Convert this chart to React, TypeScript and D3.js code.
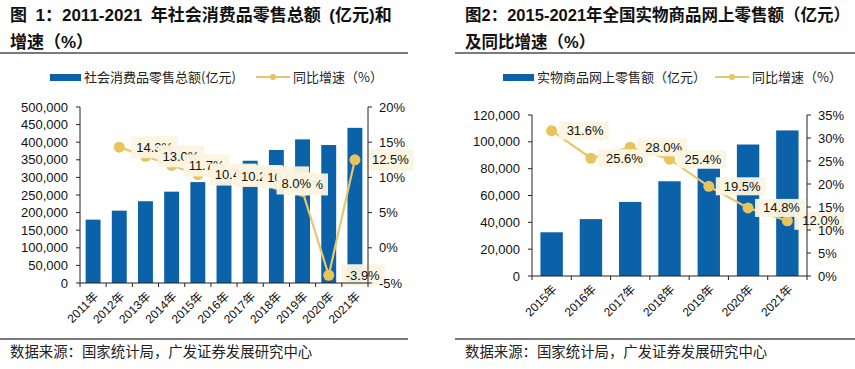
import React, { useRef, useEffect } from "react";
import * as d3 from "d3";

// 图1 数据
const years1 = ["2011年", "2012年", "2013年", "2014年", "2015年", "2016年", "2017年", "2018年", "2019年", "2020年", "2021年"];
const retail1 = [180000, 205500, 232300, 259500, 286600, 315800, 347300, 377800, 408000, 392000, 440800];
const growth1 = [null, 14.3, 13.0, 11.7, 10.4, 10.2, 10.0, 9.0, 8.0, -3.9, 12.5];
const valueTicks1 = [0, 50000, 100000, 150000, 200000, 250000, 300000, 350000, 400000, 450000, 500000];
const pctTicks1 = [-5, 0, 5, 10, 15, 20];

// 图2 数据
const years2 = ["2015年", "2016年", "2017年", "2018年", "2019年", "2020年", "2021年"];
const online2 = [32600, 42400, 55200, 70600, 80000, 98000, 108500];
const growth2 = [31.6, 25.6, 28.0, 25.4, 19.5, 14.8, 12.0];
const valueTicks2 = [0, 20000, 40000, 60000, 80000, 100000, 120000];
const pctTicks2 = [0, 5, 10, 15, 20, 25, 30, 35];

const BLUE = "#0b62a8";
const LINE = "#e3c86f";
const DOT = "#e8c45c";
const BOX = "#fbf4e0";
const NUM_FONT = "'Liberation Sans', Arial, 'Noto Sans CJK SC', sans-serif";
const CJK_FONT = "'Noto Sans CJK SC', sans-serif";

type ChartOpts = {
    years: string[];
    values: number[];
    growth: (number | null)[];
    valueTicks: number[];
    pctTicks: number[];
    left: number;
    right: number;
    top: number;
    bottom: number;
    labelDx: number;
    boxDx: number;
    boxH: number;
    dotR: number;
    moveLabel?: string;
};

function drawChart(g: d3.Selection<SVGGElement, unknown, null, undefined>, o: ChartOpts) {
    const n = o.years.length;
    const x = d3.scaleBand<string>()
        .domain(o.years)
        .range([o.left, o.right])
        .paddingInner(0.43)
        .paddingOuter(0.215);
    const step = (o.right - o.left) / n;

    const y = d3.scaleLinear()
        .domain([o.valueTicks[0], o.valueTicks[o.valueTicks.length - 1]])
        .range([o.bottom, o.top]);
    const yp = d3.scaleLinear()
        .domain([o.pctTicks[0], o.pctTicks[o.pctTicks.length - 1]])
        .range([o.bottom, o.top]);

    // 柱子
    g.selectAll(".bar")
        .data(o.values)
        .enter()
        .append("rect")
        .attr("x", (d, i) => x(o.years[i]) as number)
        .attr("y", d => y(d))
        .attr("width", x.bandwidth())
        .attr("height", d => o.bottom - y(d))
        .attr("fill", BLUE);

    const cx = (i: number) => (x(o.years[i]) as number) + x.bandwidth() / 2;

    // 折线
    const line = d3.line<number | null>()
        .defined(d => d != null)
        .x((d, i) => cx(i))
        .y(d => yp(d as number));
    g.append("path")
        .datum(o.growth)
        .attr("d", line)
        .attr("fill", "none")
        .attr("stroke", LINE)
        .attr("stroke-width", 2.2);

    o.growth.forEach((d, i) => {
        if (d == null) return;
        g.append("circle")
            .attr("cx", cx(i))
            .attr("cy", yp(d))
            .attr("r", o.dotR)
            .attr("fill", DOT);
    });

    // 数据标签（带底色，后画的盖住先画的）
    o.growth.forEach((d, i) => {
        if (d == null) return;
        let tx = cx(i) + o.labelDx;
        let ty = yp(d);
        if (o.years[i] === o.moveLabel) {
            tx -= 38;
            ty -= 8;
        }
        const label = g.append("g");
        const t = label.append("text")
            .attr("x", tx)
            .attr("y", ty)
            .attr("dy", "0.35em")
            .style("font-family", NUM_FONT)
            .style("font-size", "13px")
            .style("fill", "#111")
            .text(d.toFixed(1) + "%");
        const w = (t.node() as SVGTextElement).getComputedTextLength();
        label.insert("rect", "text")
            .attr("x", tx - (o.labelDx - o.boxDx))
            .attr("y", ty - o.boxH / 2)
            .attr("width", w + (o.labelDx - o.boxDx) + 5)
            .attr("height", o.boxH)
            .attr("fill", BOX)
            .attr("opacity", 0.95);
    });

    // 坐标轴
    const axisColor = "#222";
    g.append("line")
        .attr("x1", o.left).attr("x2", o.left)
        .attr("y1", o.top).attr("y2", o.bottom)
        .attr("stroke", axisColor);
    g.append("line")
        .attr("x1", o.right).attr("x2", o.right)
        .attr("y1", o.top).attr("y2", o.bottom)
        .attr("stroke", axisColor);
    g.append("line")
        .attr("x1", o.left).attr("x2", o.right)
        .attr("y1", o.bottom).attr("y2", o.bottom)
        .attr("stroke", axisColor);

    o.valueTicks.forEach(v => {
        g.append("line")
            .attr("x1", o.left - 4).attr("x2", o.left)
            .attr("y1", y(v)).attr("y2", y(v))
            .attr("stroke", axisColor);
        g.append("text")
            .attr("x", o.left - 12)
            .attr("y", y(v))
            .attr("dy", "0.35em")
            .attr("text-anchor", "end")
            .style("font-family", NUM_FONT)
            .style("font-size", "13px")
            .style("fill", "#111")
            .text(d3.format(",")(v));
    });

    o.pctTicks.forEach(v => {
        g.append("line")
            .attr("x1", o.right).attr("x2", o.right + 4)
            .attr("y1", yp(v)).attr("y2", yp(v))
            .attr("stroke", axisColor);
        g.append("text")
            .attr("x", o.right + 11)
            .attr("y", yp(v))
            .attr("dy", "0.35em")
            .style("font-family", NUM_FONT)
            .style("font-size", "13px")
            .style("fill", "#111")
            .text(v + "%");
    });

    d3.range(n + 1).forEach(i => {
        g.append("line")
            .attr("x1", o.left + i * step).attr("x2", o.left + i * step)
            .attr("y1", o.bottom).attr("y2", o.bottom + 4)
            .attr("stroke", axisColor);
    });

    o.years.forEach((yr, i) => {
        g.append("text")
            .attr("transform", `translate(${cx(i) + 3},${o.bottom + 11}) rotate(-45)`)
            .attr("dy", "0.35em")
            .attr("text-anchor", "end")
            .style("font-family", NUM_FONT)
            .style("font-size", "12px")
            .style("fill", "#111")
            .text(yr);
    });
}

function drawFrame(
    g: d3.Selection<SVGGElement, unknown, null, undefined>,
    x0: number, x1: number, textX: number,
    title1: string, title2: string, titleSize: number,
    legendBar: string, barX: number, lineX: number
) {
    [title1, title2].forEach((tt, k) => {
        g.append("text")
            .attr("x", textX).attr("y", 21 + k * 27)
            .style("font-family", "'Liberation Sans', Arial, 'Noto Sans CJK SC', sans-serif")
            .style("font-weight", "bold")
            .style("font-size", titleSize + "px")
            .style("fill", "#111")
            .text(tt);
    });

    [53, 339].forEach(ly => {
        g.append("line")
            .attr("x1", x0).attr("x2", x1)
            .attr("y1", ly).attr("y2", ly)
            .attr("stroke", "#7a7a7a")
            .attr("stroke-width", 2);
    });

    // 图例
    g.append("rect")
        .attr("x", barX).attr("y", 74)
        .attr("width", 31).attr("height", 7)
        .attr("fill", BLUE);
    g.append("text")
        .attr("x", barX + 34).attr("y", 77)
        .attr("dy", "0.35em")
        .style("font-family", CJK_FONT)
        .style("font-size", "13px")
        .style("fill", "#222")
        .text(legendBar);
    g.append("line")
        .attr("x1", lineX).attr("x2", lineX + 34)
        .attr("y1", 77).attr("y2", 77)
        .attr("stroke", LINE)
        .attr("stroke-width", 2.2);
    g.append("circle")
        .attr("cx", lineX + 17).attr("cy", 77)
        .attr("r", 3).attr("fill", DOT);
    g.append("text")
        .attr("x", lineX + 37).attr("y", 77)
        .attr("dy", "0.35em")
        .style("font-family", CJK_FONT)
        .style("font-size", "13px")
        .style("fill", "#222")
        .text("同比增速（%）");

    g.append("text")
        .attr("x", textX).attr("y", 352)
        .attr("dy", "0.35em")
        .style("font-family", CJK_FONT)
        .style("font-size", "14.4px")
        .style("fill", "#222")
        .text("数据来源：国家统计局，广发证券发展研究中心");
}

const App = () => {
    const svgRef = useRef<SVGSVGElement>(null);

    useEffect(() => {
        const svg = d3.select(svgRef.current);
        svg.selectAll("*").remove();

        svg.append("rect")
            .attr("width", 855).attr("height", 369)
            .attr("fill", "#fff");

        const g1 = svg.append("g");
        drawFrame(g1, 0, 408, 10,
            "图\u20021：2011-2021\u2002年社会消费品零售总额\u2002(亿元)和", "增速（%）", 17,
            "社会消费品零售总额(亿元)", 50, 256);
        drawChart(g1, {
            years: years1, values: retail1, growth: growth1,
            valueTicks: valueTicks1, pctTicks: pctTicks1,
            left: 80, right: 368, top: 107, bottom: 283,
            labelDx: 17, boxDx: 12, boxH: 22, dotR: 5.5,
            moveLabel: "2019年",
        });

        const g2 = svg.append("g");
        drawFrame(g2, 455, 855, 465,
            "图2：2015-2021年全国实物商品网上零售额（亿元）", "及同比增速（%）", 16.5,
            "实物商品网上零售额（亿元）", 503, 715);
        drawChart(g2, {
            years: years2, values: online2, growth: growth2,
            valueTicks: valueTicks2, pctTicks: pctTicks2,
            left: 532, right: 807, top: 115, bottom: 276,
            labelDx: 15, boxDx: 7, boxH: 18, dotR: 5.5,
        });
    }, []);

    return (
        <div style={{ position: "absolute", left: 0, top: 0 }}>
            <svg ref={svgRef} width={855} height={369} style={{ display: "block" }}></svg>
        </div>
    );
};

export default App;
